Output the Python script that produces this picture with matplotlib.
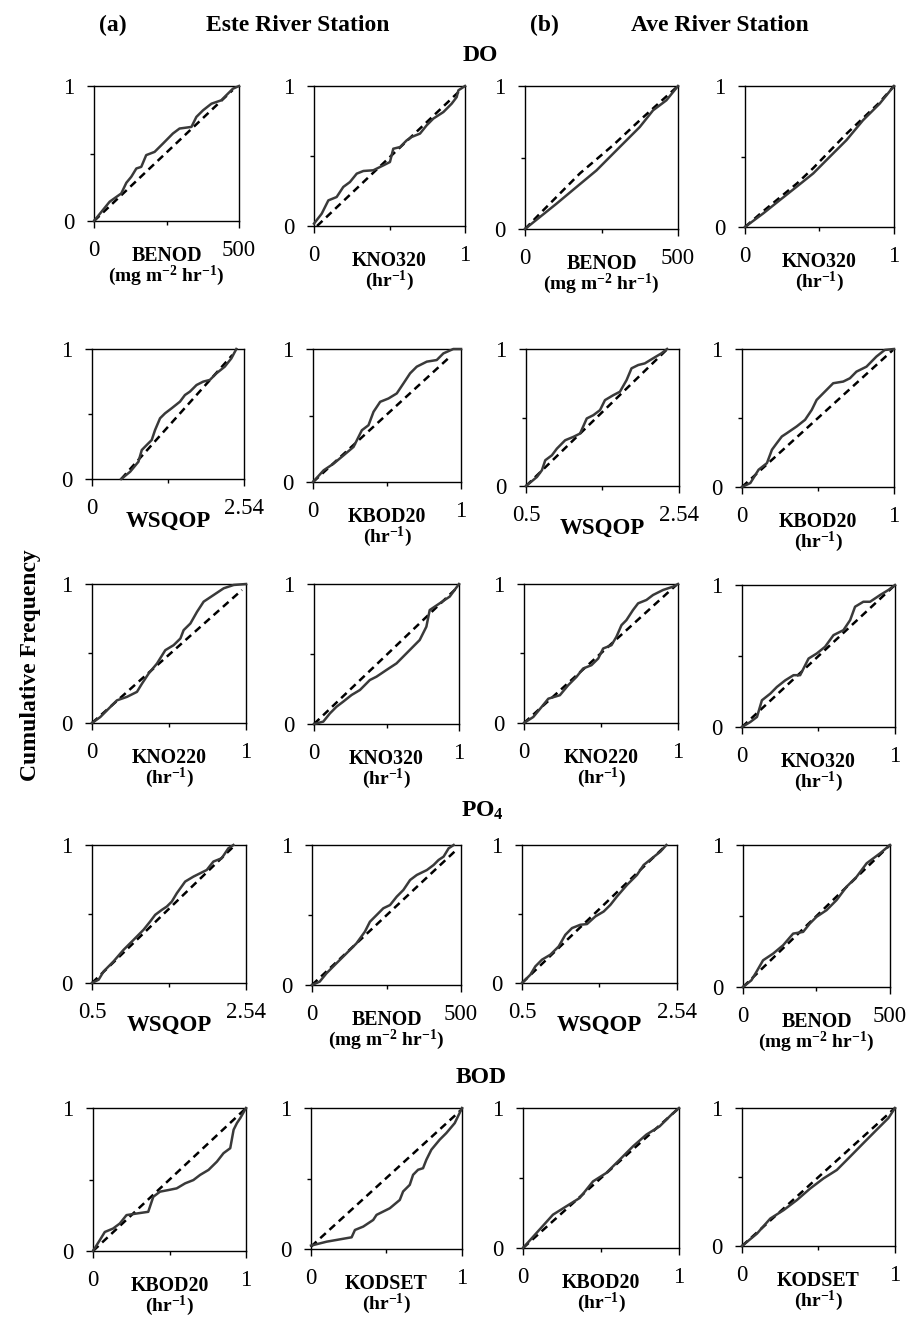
import matplotlib
matplotlib.use('Agg')
import matplotlib.pyplot as plt

plt.rcParams['font.family'] = ['Liberation Serif', 'DejaVu Serif']
plt.rcParams['mathtext.fontset'] = 'custom'
plt.rcParams['mathtext.rm'] = 'Liberation Serif:bold'
plt.rcParams['mathtext.it'] = 'Liberation Serif:bold:italic'
plt.rcParams['mathtext.bf'] = 'Liberation Serif:bold'

# ---------------- data ----------------
# (a) Este River Station - DO
a_do_benod_x = [0, 54, 94, 111.5, 128.7, 146, 163, 180, 209, 238, 272, 295, 336, 353, 376, 405, 439, 456, 479, 500]
a_do_benod_y = [0, 0.143, 0.204, 0.283, 0.328, 0.389, 0.401, 0.488, 0.512, 0.574, 0.648, 0.685, 0.697, 0.771, 0.820, 0.869, 0.894, 0.931, 0.98, 1.0]
a_do_benod_rx = [0, 478]
a_do_benod_ry = [0, 0.97]

a_do_kno3_x = [0, 0.051, 0.095, 0.150, 0.194, 0.238, 0.283, 0.327, 0.393, 0.459, 0.503, 0.525, 0.570, 0.614, 0.647, 0.702, 0.746, 0.790, 0.857, 0.912, 0.945, 0.956, 1.0]
a_do_kno3_y = [0.017, 0.088, 0.183, 0.207, 0.279, 0.314, 0.374, 0.393, 0.398, 0.433, 0.457, 0.552, 0.564, 0.612, 0.636, 0.660, 0.719, 0.767, 0.814, 0.874, 0.921, 0.969, 1.0]
a_do_kno3_rx = [0.02, 0.96]
a_do_kno3_ry = [0, 0.96]

a_do_wsqop_x = [0.488, 0.638, 0.776, 0.832, 0.915, 0.998, 1.054, 1.137, 1.220, 1.331, 1.470, 1.553, 1.636, 1.747, 1.858, 1.969, 2.080, 2.218, 2.329, 2.412]
a_do_wsqop_y = [0, 0.056, 0.133, 0.223, 0.262, 0.300, 0.377, 0.467, 0.505, 0.544, 0.595, 0.646, 0.672, 0.723, 0.749, 0.762, 0.813, 0.864, 0.928, 1.0]
a_do_wsqop_rx = [0.488, 2.346]
a_do_wsqop_ry = [0, 0.954]

a_do_kbod_x = [0, 0.072, 0.139, 0.207, 0.274, 0.330, 0.375, 0.409, 0.454, 0.510, 0.566, 0.611, 0.656, 0.701, 0.769, 0.836, 0.881, 0.948, 1.0]
a_do_kbod_y = [0, 0.088, 0.138, 0.201, 0.264, 0.389, 0.427, 0.528, 0.603, 0.628, 0.666, 0.741, 0.817, 0.867, 0.905, 0.917, 0.967, 1.0, 1.0]
a_do_kbod_rx = [0, 0.926]
a_do_kbod_ry = [0, 0.942]

a_do_kno2_x = [0, 0.054, 0.097, 0.162, 0.227, 0.292, 0.325, 0.368, 0.422, 0.476, 0.530, 0.574, 0.595, 0.639, 0.682, 0.725, 0.790, 0.855, 0.920, 1.0]
a_do_kno2_y = [0, 0.043, 0.091, 0.163, 0.188, 0.224, 0.284, 0.356, 0.428, 0.524, 0.560, 0.608, 0.668, 0.716, 0.800, 0.873, 0.921, 0.969, 0.993, 1.0]
a_do_kno2_rx = [0, 0.974]
a_do_kno2_ry = [0, 0.957]

a_do_kno3b_x = [0, 0.064, 0.110, 0.156, 0.202, 0.259, 0.317, 0.385, 0.431, 0.5, 0.569, 0.615, 0.661, 0.729, 0.775, 0.798, 0.867, 0.936, 1.0]
a_do_kno3b_y = [0, 0.017, 0.076, 0.124, 0.160, 0.207, 0.243, 0.314, 0.338, 0.386, 0.433, 0.481, 0.529, 0.600, 0.695, 0.814, 0.862, 0.910, 1.0]
a_do_kno3b_rx = [0, 0.993]
a_do_kno3b_ry = [0, 0.98]

# (b) Ave River Station - DO
b_do_benod_x = [0, 48.9, 103, 168.5, 233.7, 288, 331.5, 375, 418.5, 462, 500]
b_do_benod_y = [0, 0.084, 0.177, 0.294, 0.410, 0.527, 0.620, 0.713, 0.830, 0.9, 1.0]
b_do_benod_rx = [0, 50, 180, 290, 375, 500]
b_do_benod_ry = [0, 0.11, 0.39, 0.59, 0.76, 1.0]

b_do_kno3_x = [0, 0.123, 0.234, 0.346, 0.458, 0.569, 0.681, 0.792, 0.904, 1.0]
b_do_kno3_y = [0, 0.097, 0.191, 0.285, 0.380, 0.498, 0.616, 0.757, 0.875, 1.0]
b_do_kno3_rx = [0, 0.12, 0.35, 0.46, 0.68, 0.9, 1.0]
b_do_kno3_ry = [0, 0.11, 0.31, 0.42, 0.66, 0.88, 1.0]

b_do_wsqop_x = [0.5, 0.646, 0.712, 0.757, 0.845, 0.912, 1.022, 1.133, 1.221, 1.310, 1.398, 1.487, 1.553, 1.664, 1.752, 1.841, 1.907, 1.996, 2.084, 2.195, 2.305, 2.381]
b_do_wsqop_y = [0, 0.066, 0.115, 0.188, 0.224, 0.273, 0.334, 0.359, 0.383, 0.493, 0.517, 0.554, 0.627, 0.663, 0.688, 0.773, 0.859, 0.883, 0.895, 0.932, 0.968, 1.0]
b_do_wsqop_rx = [0.5, 2.372]
b_do_wsqop_ry = [0, 0.993]

b_do_kbod_x = [0, 0.055, 0.109, 0.164, 0.197, 0.229, 0.262, 0.295, 0.360, 0.415, 0.459, 0.491, 0.535, 0.600, 0.666, 0.710, 0.753, 0.819, 0.884, 0.939, 1.0]
b_do_kbod_y = [0, 0.029, 0.125, 0.173, 0.270, 0.318, 0.366, 0.390, 0.439, 0.487, 0.559, 0.631, 0.680, 0.752, 0.764, 0.788, 0.836, 0.872, 0.945, 0.993, 1.0]
b_do_kbod_rx = [0, 0.993]
b_do_kbod_ry = [0, 0.993]

b_do_kno2_x = [0, 0.060, 0.114, 0.158, 0.233, 0.287, 0.341, 0.384, 0.438, 0.482, 0.514, 0.568, 0.600, 0.633, 0.665, 0.708, 0.741, 0.795, 0.838, 0.903, 0.968, 1.0]
b_do_kno2_y = [0, 0.043, 0.115, 0.175, 0.2, 0.272, 0.332, 0.392, 0.416, 0.464, 0.536, 0.560, 0.620, 0.704, 0.740, 0.813, 0.861, 0.885, 0.921, 0.957, 0.981, 1.0]
b_do_kno2_rx = [0, 0.989]
b_do_kno2_ry = [0, 0.993]

b_do_kno3b_x = [0, 0.054, 0.098, 0.130, 0.185, 0.228, 0.283, 0.337, 0.380, 0.435, 0.489, 0.543, 0.598, 0.663, 0.707, 0.739, 0.793, 0.837, 0.902, 0.957, 1.0]
b_do_kno3b_y = [0, 0.035, 0.071, 0.188, 0.235, 0.282, 0.329, 0.365, 0.365, 0.482, 0.518, 0.565, 0.647, 0.682, 0.753, 0.847, 0.882, 0.882, 0.929, 0.965, 1.0]
b_do_kno3b_rx = [0, 1.0]
b_do_kno3b_ry = [0, 1.0]

# PO4
a_po4_wsqop_x = [0.5, 0.588, 0.654, 0.786, 0.919, 1.051, 1.183, 1.271, 1.337, 1.425, 1.491, 1.557, 1.624, 1.734, 1.844, 1.932, 2.020, 2.108, 2.218, 2.306, 2.373]
a_po4_wsqop_y = [0, 0.024, 0.084, 0.157, 0.241, 0.313, 0.386, 0.446, 0.494, 0.530, 0.554, 0.590, 0.651, 0.735, 0.771, 0.795, 0.819, 0.880, 0.904, 0.976, 1.0]
a_po4_wsqop_rx = [0.5, 2.373]
a_po4_wsqop_ry = [0, 0.988]

a_po4_benod_x = [0, 25.8, 48.3, 82.0, 115.7, 149.4, 177.5, 194.4, 216.9, 239.3, 261.8, 284.3, 306.7, 329.2, 351.7, 385.4, 407.9, 424.7, 441.6, 458.4, 475.3]
a_po4_benod_y = [0, 0.024, 0.083, 0.155, 0.226, 0.298, 0.381, 0.452, 0.5, 0.548, 0.571, 0.631, 0.679, 0.75, 0.786, 0.821, 0.857, 0.893, 0.917, 0.976, 1.0]
a_po4_benod_rx = [0, 484]
a_po4_benod_ry = [0, 0.964]

b_po4_wsqop_x = [0.5, 0.610, 0.675, 0.763, 0.873, 0.983, 1.070, 1.158, 1.268, 1.355, 1.465, 1.575, 1.663, 1.750, 1.882, 2.013, 2.101, 2.211, 2.321, 2.400]
b_po4_wsqop_y = [0, 0.060, 0.120, 0.169, 0.205, 0.265, 0.349, 0.398, 0.422, 0.427, 0.482, 0.518, 0.566, 0.627, 0.711, 0.783, 0.855, 0.904, 0.952, 1.0]
b_po4_wsqop_rx = [0.5, 2.4]
b_po4_wsqop_ry = [0, 1.0]

b_po4_benod_x = [0, 28.4, 45.5, 68.2, 102.3, 136.4, 170.5, 204.5, 227.3, 250, 284.1, 318.2, 352.3, 386.4, 420.5, 465.9, 500]
b_po4_benod_y = [0, 0.047, 0.106, 0.188, 0.235, 0.294, 0.376, 0.388, 0.447, 0.494, 0.541, 0.612, 0.706, 0.776, 0.871, 0.941, 1.0]
b_po4_benod_rx = [0, 500]
b_po4_benod_ry = [0, 1.0]

# BOD
a_bod_kbod_x = [0, 0.044, 0.077, 0.131, 0.175, 0.219, 0.284, 0.361, 0.394, 0.438, 0.492, 0.547, 0.602, 0.656, 0.700, 0.755, 0.810, 0.853, 0.897, 0.919, 0.941, 0.963, 1.0]
a_bod_kbod_y = [0, 0.075, 0.133, 0.157, 0.192, 0.251, 0.262, 0.274, 0.379, 0.415, 0.426, 0.438, 0.473, 0.496, 0.532, 0.567, 0.625, 0.684, 0.719, 0.848, 0.895, 0.930, 1.0]
a_bod_kbod_rx = [0, 0.989]
a_bod_kbod_ry = [0, 0.988]

a_bod_kodset_x = [0, 0.104, 0.269, 0.291, 0.346, 0.412, 0.434, 0.522, 0.588, 0.610, 0.654, 0.676, 0.709, 0.742, 0.764, 0.797, 0.852, 0.896, 0.952, 1.0]
a_bod_kodset_y = [0.024, 0.052, 0.083, 0.135, 0.159, 0.206, 0.242, 0.289, 0.348, 0.408, 0.455, 0.526, 0.562, 0.573, 0.633, 0.704, 0.775, 0.822, 0.893, 1.0]
a_bod_kodset_rx = [0, 0.996]
a_bod_kodset_ry = [0.017, 0.988]

b_bod_kbod_x = [0, 0.096, 0.192, 0.278, 0.363, 0.449, 0.534, 0.620, 0.705, 0.791, 0.876, 0.951, 1.0]
b_bod_kbod_y = [0, 0.119, 0.238, 0.298, 0.357, 0.476, 0.536, 0.631, 0.726, 0.810, 0.869, 0.952, 1.0]
b_bod_kbod_rx = [0, 1.0]
b_bod_kbod_ry = [0, 1.0]

b_bod_kodset_x = [0, 0.098, 0.185, 0.272, 0.359, 0.446, 0.533, 0.620, 0.707, 0.793, 0.880, 0.957, 1.0]
b_bod_kodset_y = [0, 0.090, 0.199, 0.260, 0.333, 0.417, 0.490, 0.551, 0.648, 0.745, 0.842, 0.927, 1.0]
b_bod_kodset_rx = [0, 1.0]
b_bod_kodset_ry = [0, 1.0]

# axis ranges / labels
rng_benod = (0, 500)
rng_unit = (0, 1)
rng_wsqop0 = (0, 2.54)
rng_wsqop = (0.5, 2.54)
lab_benod = ['0', '500']
lab_unit = ['0', '1']
lab_wsqop0 = ['0', '2.54']
lab_wsqop = ['0.5', '2.54']
unit_benod = r'(mg m$^{-2}$ hr$^{-1}$)'
unit_hr = r'(hr$^{-1}$)'

# ---------------- layout (pixel boxes: left, top, right, bottom) ----------------
W, H = 912, 1318
boxes = [
    [(94, 86, 239, 221), (314, 86, 465, 226), (525, 86, 678, 229), (745, 86, 894, 227)],
    [(92, 349, 244, 479), (313, 349, 461, 482), (526, 349, 679, 486), (742, 349, 894, 487)],
    [(92, 584, 246, 723), (314, 584, 459, 724), (524, 584, 678, 723), (742, 585, 895, 727)],
    [(92, 845, 246, 983), (312, 845, 461, 985), (522, 845, 677, 983), (743, 845, 890, 987)],
    [(93, 1108, 246, 1251), (311, 1108, 462, 1249), (523, 1108, 679, 1248), (742, 1108, 895, 1246)],
]

panels = [
    [(a_do_benod_x, a_do_benod_y, a_do_benod_rx, a_do_benod_ry, rng_benod, lab_benod, 'BENOD', unit_benod),
     (a_do_kno3_x, a_do_kno3_y, a_do_kno3_rx, a_do_kno3_ry, rng_unit, lab_unit, 'KNO320', unit_hr),
     (b_do_benod_x, b_do_benod_y, b_do_benod_rx, b_do_benod_ry, rng_benod, lab_benod, 'BENOD', unit_benod),
     (b_do_kno3_x, b_do_kno3_y, b_do_kno3_rx, b_do_kno3_ry, rng_unit, lab_unit, 'KNO320', unit_hr)],
    [(a_do_wsqop_x, a_do_wsqop_y, a_do_wsqop_rx, a_do_wsqop_ry, rng_wsqop0, lab_wsqop0, 'WSQOP', None),
     (a_do_kbod_x, a_do_kbod_y, a_do_kbod_rx, a_do_kbod_ry, rng_unit, lab_unit, 'KBOD20', unit_hr),
     (b_do_wsqop_x, b_do_wsqop_y, b_do_wsqop_rx, b_do_wsqop_ry, rng_wsqop, lab_wsqop, 'WSQOP', None),
     (b_do_kbod_x, b_do_kbod_y, b_do_kbod_rx, b_do_kbod_ry, rng_unit, lab_unit, 'KBOD20', unit_hr)],
    [(a_do_kno2_x, a_do_kno2_y, a_do_kno2_rx, a_do_kno2_ry, rng_unit, lab_unit, 'KNO220', unit_hr),
     (a_do_kno3b_x, a_do_kno3b_y, a_do_kno3b_rx, a_do_kno3b_ry, rng_unit, lab_unit, 'KNO320', unit_hr),
     (b_do_kno2_x, b_do_kno2_y, b_do_kno2_rx, b_do_kno2_ry, rng_unit, lab_unit, 'KNO220', unit_hr),
     (b_do_kno3b_x, b_do_kno3b_y, b_do_kno3b_rx, b_do_kno3b_ry, rng_unit, lab_unit, 'KNO320', unit_hr)],
    [(a_po4_wsqop_x, a_po4_wsqop_y, a_po4_wsqop_rx, a_po4_wsqop_ry, rng_wsqop, lab_wsqop, 'WSQOP', None),
     (a_po4_benod_x, a_po4_benod_y, a_po4_benod_rx, a_po4_benod_ry, rng_benod, lab_benod, 'BENOD', unit_benod),
     (b_po4_wsqop_x, b_po4_wsqop_y, b_po4_wsqop_rx, b_po4_wsqop_ry, rng_wsqop, lab_wsqop, 'WSQOP', None),
     (b_po4_benod_x, b_po4_benod_y, b_po4_benod_rx, b_po4_benod_ry, rng_benod, lab_benod, 'BENOD', unit_benod)],
    [(a_bod_kbod_x, a_bod_kbod_y, a_bod_kbod_rx, a_bod_kbod_ry, rng_unit, lab_unit, 'KBOD20', unit_hr),
     (a_bod_kodset_x, a_bod_kodset_y, a_bod_kodset_rx, a_bod_kodset_ry, rng_unit, lab_unit, 'KODSET', unit_hr),
     (b_bod_kbod_x, b_bod_kbod_y, b_bod_kbod_rx, b_bod_kbod_ry, rng_unit, lab_unit, 'KBOD20', unit_hr),
     (b_bod_kodset_x, b_bod_kodset_y, b_bod_kodset_rx, b_bod_kodset_ry, rng_unit, lab_unit, 'KODSET', unit_hr)],
]

fig = plt.figure(figsize=(W / 100, H / 100), dpi=100)
fig.patch.set_facecolor('white')


def fy(py):
    return 1 - py / H


for r in range(5):
    for c in range(4):
        sx, sy, rx, ry, rng, labs, name, unit = panels[r][c]
        l, t, rr, b = boxes[r][c]
        ax = fig.add_axes([l / W, 1 - b / H, (rr - l) / W, (b - t) / H])
        ax.plot(rx, ry, color='black', lw=1.8, linestyle=(0, (3, 2)), clip_on=False, zorder=2)
        ax.plot(sx, sy, color='#3a3a3a', lw=1.8, clip_on=False, zorder=3, solid_joinstyle='round')
        lo, hi = rng
        ax.set_xlim(lo, hi)
        ax.set_ylim(0, 1)
        ax.set_xticks([lo, hi])
        ax.set_xticklabels(labs)
        ax.set_xticks([(lo + hi) / 2], minor=True)
        ax.set_yticks([0, 1])
        ax.set_yticklabels(['0', '1'])
        ax.set_yticks([0.5], minor=True)
        ax.tick_params(which='major', direction='out', length=5, width=1, labelsize=16.5, pad=9)
        ax.tick_params(which='minor', direction='out', length=3, width=1)
        for s in ax.spines.values():
            s.set_linewidth(1.0)
        cx = (l + rr) / 2 / W
        if unit is None:
            fig.text(cx, fy(b + 42), name, ha='center', va='center', fontsize=16.5, fontweight='bold')
        else:
            fig.text(cx, fy(b + 35), name, ha='center', va='center', fontsize=14.3, fontweight='bold')
            fig.text(cx, fy(b + 55), unit, ha='center', va='center', fontsize=14, fontweight='bold')

# titles
fig.text(113 / W, fy(31), '(a)', ha='center', va='baseline', fontsize=17, fontweight='bold')
fig.text(297.5 / W, fy(31), 'Este River Station', ha='center', va='baseline', fontsize=17, fontweight='bold')
fig.text(544 / W, fy(31), '(b)', ha='center', va='baseline', fontsize=17, fontweight='bold')
fig.text(719.5 / W, fy(31), 'Ave River Station', ha='center', va='baseline', fontsize=17, fontweight='bold')
fig.text(480 / W, fy(61), 'DO', ha='center', va='baseline', fontsize=17, fontweight='bold')
fig.text(482 / W, fy(817), r'PO$_4$', ha='center', va='baseline', fontsize=17, fontweight='bold')
fig.text(481 / W, fy(1083), 'BOD', ha='center', va='baseline', fontsize=17, fontweight='bold')
fig.text(31 / W, fy(665), 'Cumulative Frequency', ha='center', va='center', rotation=90,
         fontsize=17, fontweight='bold')

fig.savefig('out.png', dpi=100)
